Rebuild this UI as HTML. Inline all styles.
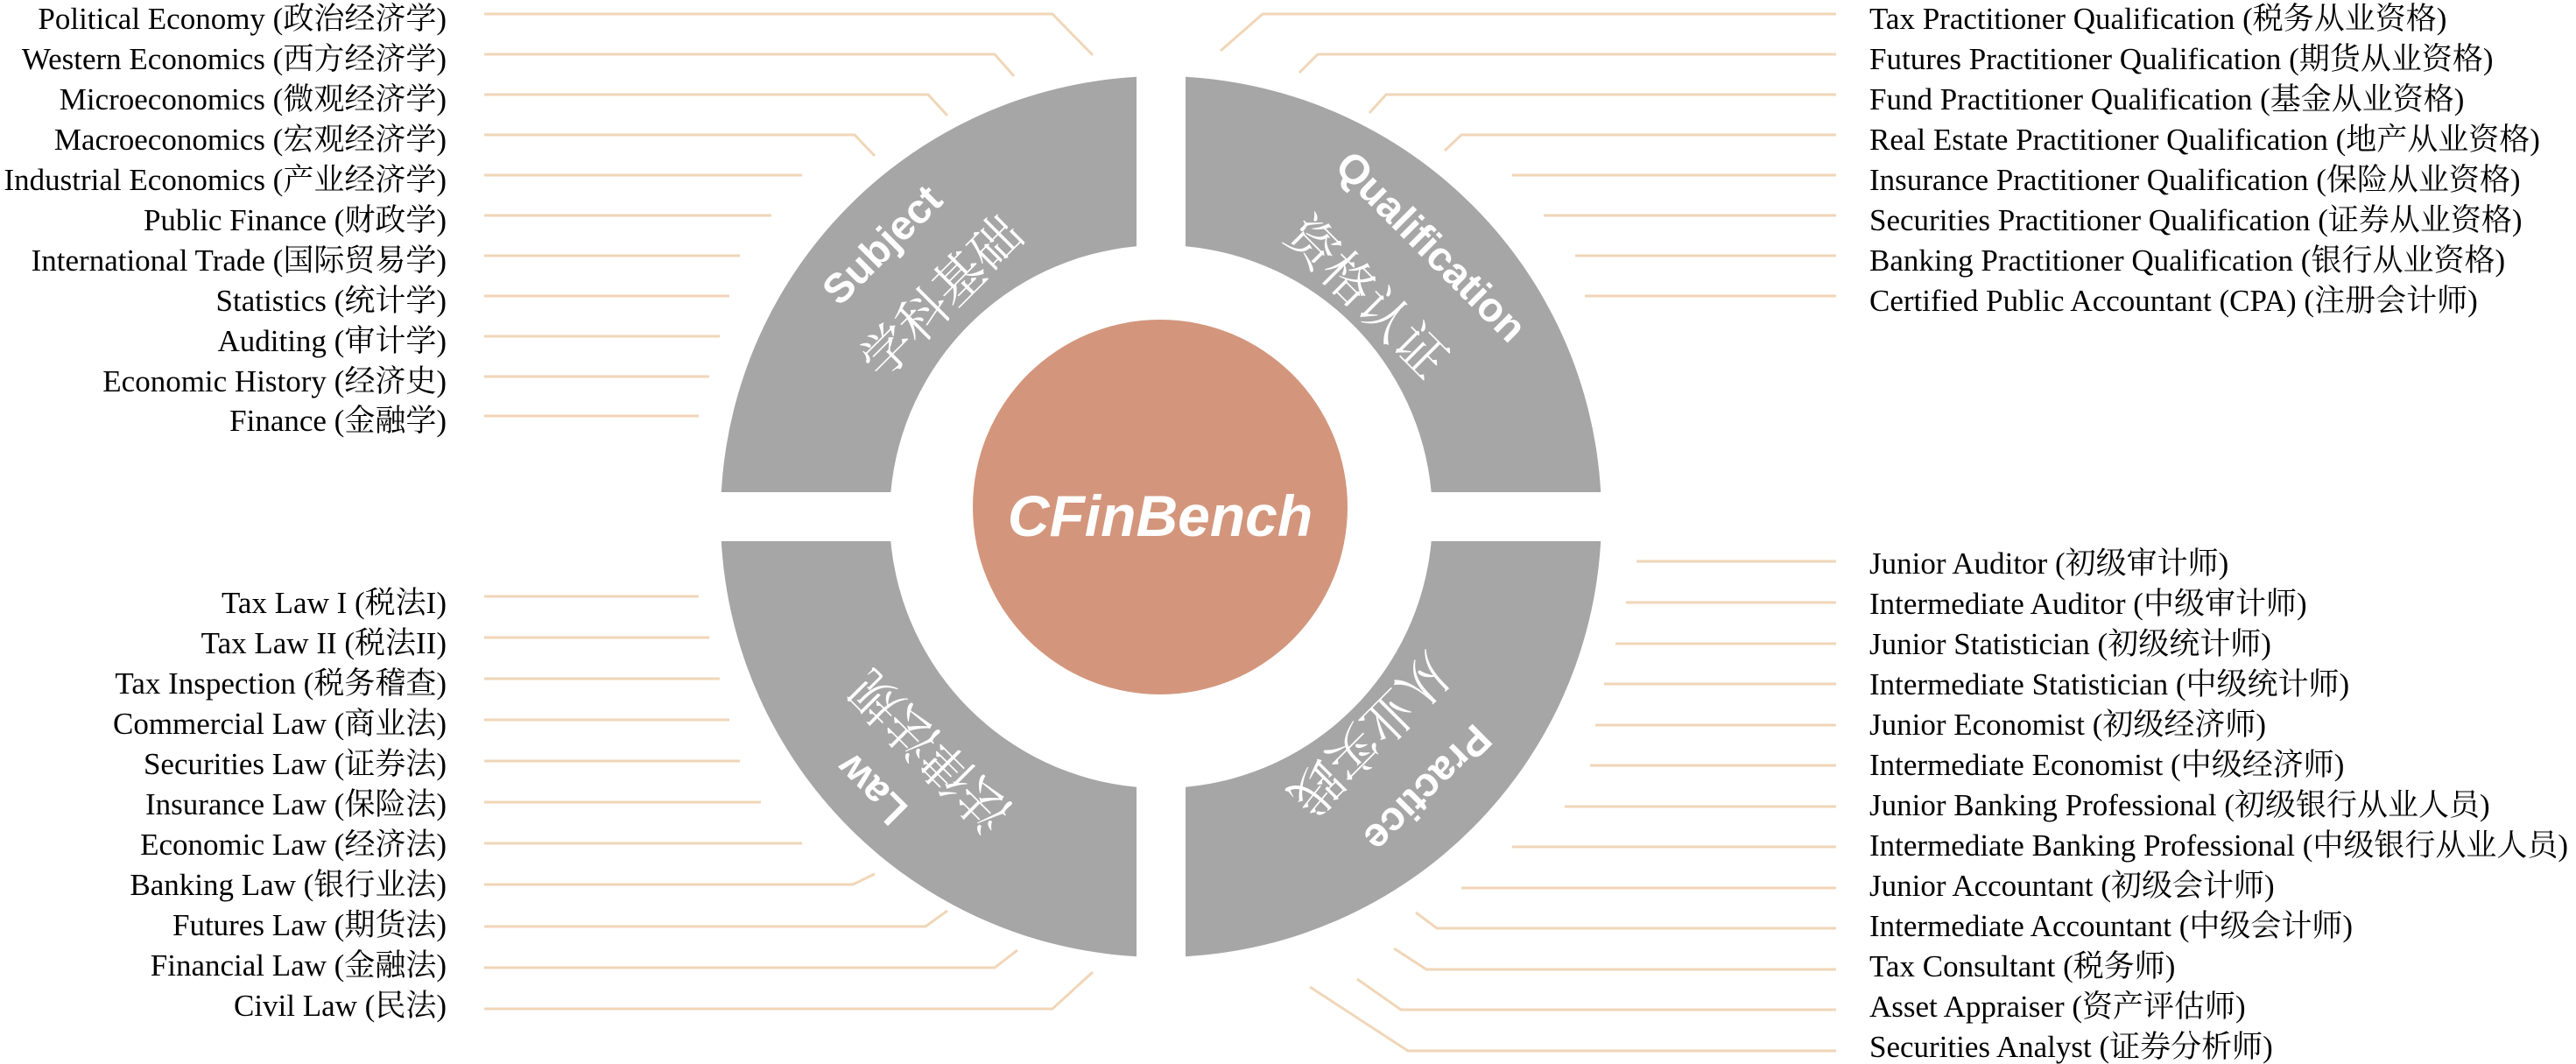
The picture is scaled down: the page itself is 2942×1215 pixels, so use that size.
<!DOCTYPE html>
<html><head><meta charset="utf-8"><style>
html,body{margin:0;padding:0;background:#fff;width:2942px;height:1215px;overflow:hidden}
.l{font-family:"Liberation Serif","Noto Serif CJK SC","Noto Sans CJK SC",serif;font-size:35px;fill:#000}
.ln{stroke:#f0d6b8;stroke-width:3;fill:none}
.en{font-family:"Liberation Sans","Noto Sans CJK SC",sans-serif;font-weight:bold;font-size:47px;fill:#fff}
.zh{font-family:"Noto Serif CJK SC","Noto Sans CJK SC",serif;font-size:58px;fill:#fff}
</style></head><body>
<svg width="2942" height="1215" viewBox="0 0 2942 1215" xmlns="http://www.w3.org/2000/svg">
<g transform="translate(1326,590)" fill="#a6a6a6">
<path d="M-28,-502.2 L-28,-308.7 A310 310 0 0 0 -308.7,-28 L-502.2,-28 A503 503 0 0 1 -28,-502.2Z"/>
<path d="M-28,-502.2 L-28,-308.7 A310 310 0 0 0 -308.7,-28 L-502.2,-28 A503 503 0 0 1 -28,-502.2Z" transform="scale(-1,1)"/>
<path d="M-28,-502.2 L-28,-308.7 A310 310 0 0 0 -308.7,-28 L-502.2,-28 A503 503 0 0 1 -28,-502.2Z" transform="scale(1,-1)"/>
<path d="M-28,-502.2 L-28,-308.7 A310 310 0 0 0 -308.7,-28 L-502.2,-28 A503 503 0 0 1 -28,-502.2Z" transform="scale(-1,-1)"/>
<circle cx="-1" cy="-11" r="214" fill="#d3967c"/>
</g>
<text x="1325" y="612" text-anchor="middle" font-family="Liberation Sans,sans-serif" font-weight="bold" font-style="italic" font-size="66" fill="#fff">CFinBench</text>

<text class="en" transform="translate(1010,282) rotate(-45)" text-anchor="middle" dominant-baseline="middle">Subject</text>
<text class="zh" transform="translate(1079,343) rotate(-45)" text-anchor="middle" dominant-baseline="middle">学科基础</text>
<text class="en" transform="translate(1632,284) rotate(45)" text-anchor="middle" dominant-baseline="middle">Qualification</text>
<text class="zh" transform="translate(1557,343) rotate(45)" text-anchor="middle" dominant-baseline="middle">资格认证</text>
<text class="en" transform="translate(998,899) rotate(-135)" text-anchor="middle" dominant-baseline="middle">Law</text>
<text class="zh" transform="translate(1066,854) rotate(-135)" text-anchor="middle" dominant-baseline="middle">法律法规</text>
<text class="en" transform="translate(1628,898) rotate(135)" text-anchor="middle" dominant-baseline="middle">Practice</text>
<text class="zh" transform="translate(1561,835) rotate(135)" text-anchor="middle" dominant-baseline="middle">从业实践</text>

<g class="ln">
<polyline points="553,16 1202,16 1248,63"/>
<polyline points="553,62 1136,62 1158,87"/>
<polyline points="553,108 1060,108 1082,132"/>
<polyline points="553,154 976,154 999,178"/>
<line x1="553" y1="200" x2="916" y2="200"/>
<line x1="553" y1="246" x2="881" y2="246"/>
<line x1="553" y1="292" x2="845" y2="292"/>
<line x1="553" y1="338" x2="833" y2="338"/>
<line x1="553" y1="384" x2="822" y2="384"/>
<line x1="553" y1="430" x2="810" y2="430"/>
<line x1="553" y1="475" x2="798" y2="475"/>
</g>
<g class="l" text-anchor="end">
<text x="510" y="33">Political Economy (政治经济学)</text>
<text x="510" y="79">Western Economics (西方经济学)</text>
<text x="510" y="125">Microeconomics (微观经济学)</text>
<text x="510" y="171">Macroeconomics (宏观经济学)</text>
<text x="510" y="217">Industrial Economics (产业经济学)</text>
<text x="510" y="263">Public Finance (财政学)</text>
<text x="510" y="309">International Trade (国际贸易学)</text>
<text x="510" y="355">Statistics (统计学)</text>
<text x="510" y="401">Auditing (审计学)</text>
<text x="510" y="447">Economic History (经济史)</text>
<text x="510" y="492">Finance (金融学)</text>
</g>

<g class="ln">
<line x1="553" y1="681" x2="798" y2="681"/>
<line x1="553" y1="728" x2="810" y2="728"/>
<line x1="553" y1="775" x2="822" y2="775"/>
<line x1="553" y1="822" x2="833" y2="822"/>
<line x1="553" y1="869" x2="845" y2="869"/>
<line x1="553" y1="916" x2="869" y2="916"/>
<line x1="553" y1="963" x2="916" y2="963"/>
<polyline points="553,1010 974,1010 999,998"/>
<polyline points="553,1058 1057,1058 1082,1040"/>
<polyline points="553,1105 1136,1105 1162,1085"/>
<polyline points="553,1152 1202,1152 1248,1110"/>
</g>
<g class="l" text-anchor="end">
<text x="510" y="700">Tax Law I (税法I)</text>
<text x="510" y="746">Tax Law II (税法II)</text>
<text x="510" y="792">Tax Inspection (税务稽查)</text>
<text x="510" y="838">Commercial Law (商业法)</text>
<text x="510" y="884">Securities Law (证券法)</text>
<text x="510" y="930">Insurance Law (保险法)</text>
<text x="510" y="976">Economic Law (经济法)</text>
<text x="510" y="1022">Banking Law (银行业法)</text>
<text x="510" y="1068">Futures Law (期货法)</text>
<text x="510" y="1114">Financial Law (金融法)</text>
<text x="510" y="1160">Civil Law (民法)</text>
</g>

<g class="ln">
<polyline points="2097,16 1442,16 1394,58"/>
<polyline points="2097,62 1505,62 1484,83"/>
<polyline points="2097,108 1583,108 1564,129"/>
<polyline points="2097,154 1669,154 1650,172"/>
<line x1="2097" y1="200" x2="1727" y2="200"/>
<line x1="2097" y1="246" x2="1763" y2="246"/>
<line x1="2097" y1="292" x2="1799" y2="292"/>
<line x1="2097" y1="338" x2="1810" y2="338"/>
</g>
<g class="l">
<text x="2135" y="33">Tax Practitioner Qualification (税务从业资格)</text>
<text x="2135" y="79">Futures Practitioner Qualification (期货从业资格)</text>
<text x="2135" y="125">Fund Practitioner Qualification (基金从业资格)</text>
<text x="2135" y="171">Real Estate Practitioner Qualification (地产从业资格)</text>
<text x="2135" y="217">Insurance Practitioner Qualification (保险从业资格)</text>
<text x="2135" y="263">Securities Practitioner Qualification (证券从业资格)</text>
<text x="2135" y="309">Banking Practitioner Qualification (银行从业资格)</text>
<text x="2135" y="355">Certified Public Accountant (CPA) (注册会计师)</text>
</g>

<g class="ln">
<line x1="2097" y1="641" x2="1869" y2="641"/>
<line x1="2097" y1="688" x2="1857" y2="688"/>
<line x1="2097" y1="735" x2="1845" y2="735"/>
<line x1="2097" y1="781" x2="1832" y2="781"/>
<line x1="2097" y1="828" x2="1822" y2="828"/>
<line x1="2097" y1="874" x2="1816" y2="874"/>
<line x1="2097" y1="921" x2="1787" y2="921"/>
<line x1="2097" y1="967" x2="1727" y2="967"/>
<line x1="2097" y1="1014" x2="1669" y2="1014"/>
<polyline points="2097,1060 1641,1060 1617,1042"/>
<polyline points="2097,1107 1629,1107 1592,1083"/>
<polyline points="2097,1153 1600,1153 1550,1118"/>
<polyline points="2097,1200 1608,1200 1496,1127"/>
</g>
<g class="l">
<text x="2135" y="655">Junior Auditor (初级审计师)</text>
<text x="2135" y="701">Intermediate Auditor (中级审计师)</text>
<text x="2135" y="747">Junior Statistician (初级统计师)</text>
<text x="2135" y="793">Intermediate Statistician (中级统计师)</text>
<text x="2135" y="839">Junior Economist (初级经济师)</text>
<text x="2135" y="885">Intermediate Economist (中级经济师)</text>
<text x="2135" y="931">Junior Banking Professional (初级银行从业人员)</text>
<text x="2135" y="977">Intermediate Banking Professional (中级银行从业人员)</text>
<text x="2135" y="1023">Junior Accountant (初级会计师)</text>
<text x="2135" y="1069">Intermediate Accountant (中级会计师)</text>
<text x="2135" y="1115">Tax Consultant (税务师)</text>
<text x="2135" y="1161">Asset Appraiser (资产评估师)</text>
<text x="2135" y="1207">Securities Analyst (证券分析师)</text>
</g>
</svg>
</body></html>
